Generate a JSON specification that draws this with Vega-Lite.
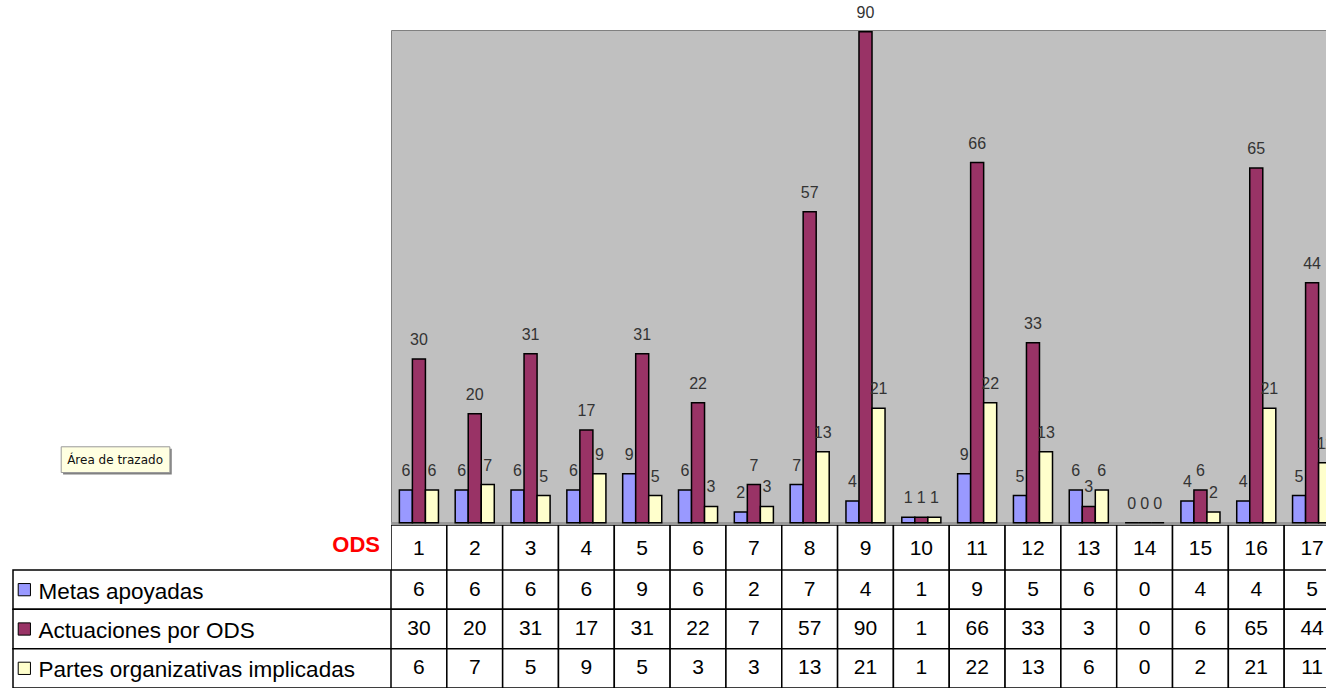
{
  "$schema": "https://vega.github.io/schema/vega-lite/v6.json",
  "padding": {"left": 12, "top": 4, "right": 0, "bottom": 0},
  "background": "white",
  "columns": 2,
  "spacing": 0,
  "bounds": "flush",
  "resolve": {"scale": {"x": "independent", "y": "independent", "color": "independent", "xOffset": "independent"}},
  "config": {"view": {"stroke": null}, "font": "Liberation Sans"},
  "datasets": {
    "datos": [
      {"ODS": 1, "serie": "Metas apoyadas", "valor": 6},
      {"ODS": 1, "serie": "Actuaciones por ODS", "valor": 30},
      {"ODS": 1, "serie": "Partes organizativas implicadas", "valor": 6},
      {"ODS": 2, "serie": "Metas apoyadas", "valor": 6},
      {"ODS": 2, "serie": "Actuaciones por ODS", "valor": 20},
      {"ODS": 2, "serie": "Partes organizativas implicadas", "valor": 7},
      {"ODS": 3, "serie": "Metas apoyadas", "valor": 6},
      {"ODS": 3, "serie": "Actuaciones por ODS", "valor": 31},
      {"ODS": 3, "serie": "Partes organizativas implicadas", "valor": 5},
      {"ODS": 4, "serie": "Metas apoyadas", "valor": 6},
      {"ODS": 4, "serie": "Actuaciones por ODS", "valor": 17},
      {"ODS": 4, "serie": "Partes organizativas implicadas", "valor": 9},
      {"ODS": 5, "serie": "Metas apoyadas", "valor": 9},
      {"ODS": 5, "serie": "Actuaciones por ODS", "valor": 31},
      {"ODS": 5, "serie": "Partes organizativas implicadas", "valor": 5},
      {"ODS": 6, "serie": "Metas apoyadas", "valor": 6},
      {"ODS": 6, "serie": "Actuaciones por ODS", "valor": 22},
      {"ODS": 6, "serie": "Partes organizativas implicadas", "valor": 3},
      {"ODS": 7, "serie": "Metas apoyadas", "valor": 2},
      {"ODS": 7, "serie": "Actuaciones por ODS", "valor": 7},
      {"ODS": 7, "serie": "Partes organizativas implicadas", "valor": 3},
      {"ODS": 8, "serie": "Metas apoyadas", "valor": 7},
      {"ODS": 8, "serie": "Actuaciones por ODS", "valor": 57},
      {"ODS": 8, "serie": "Partes organizativas implicadas", "valor": 13},
      {"ODS": 9, "serie": "Metas apoyadas", "valor": 4},
      {"ODS": 9, "serie": "Actuaciones por ODS", "valor": 90},
      {"ODS": 9, "serie": "Partes organizativas implicadas", "valor": 21},
      {"ODS": 10, "serie": "Metas apoyadas", "valor": 1},
      {"ODS": 10, "serie": "Actuaciones por ODS", "valor": 1},
      {"ODS": 10, "serie": "Partes organizativas implicadas", "valor": 1},
      {"ODS": 11, "serie": "Metas apoyadas", "valor": 9},
      {"ODS": 11, "serie": "Actuaciones por ODS", "valor": 66},
      {"ODS": 11, "serie": "Partes organizativas implicadas", "valor": 22},
      {"ODS": 12, "serie": "Metas apoyadas", "valor": 5},
      {"ODS": 12, "serie": "Actuaciones por ODS", "valor": 33},
      {"ODS": 12, "serie": "Partes organizativas implicadas", "valor": 13},
      {"ODS": 13, "serie": "Metas apoyadas", "valor": 6},
      {"ODS": 13, "serie": "Actuaciones por ODS", "valor": 3},
      {"ODS": 13, "serie": "Partes organizativas implicadas", "valor": 6},
      {"ODS": 14, "serie": "Metas apoyadas", "valor": 0},
      {"ODS": 14, "serie": "Actuaciones por ODS", "valor": 0},
      {"ODS": 14, "serie": "Partes organizativas implicadas", "valor": 0},
      {"ODS": 15, "serie": "Metas apoyadas", "valor": 4},
      {"ODS": 15, "serie": "Actuaciones por ODS", "valor": 6},
      {"ODS": 15, "serie": "Partes organizativas implicadas", "valor": 2},
      {"ODS": 16, "serie": "Metas apoyadas", "valor": 4},
      {"ODS": 16, "serie": "Actuaciones por ODS", "valor": 65},
      {"ODS": 16, "serie": "Partes organizativas implicadas", "valor": 21},
      {"ODS": 17, "serie": "Metas apoyadas", "valor": 5},
      {"ODS": 17, "serie": "Actuaciones por ODS", "valor": 44},
      {"ODS": 17, "serie": "Partes organizativas implicadas", "valor": 11}
    ]
  },
  "concat": [
    {
      "width": 378,
      "height": 495,
      "data": {"values": [{"etiqueta": "Área de trazado"}]},
      "layer": [
        {
          "mark": {"type": "rect", "fill": "#808080"},
          "encoding": {
            "x": {"datum": 53, "type": "quantitative", "scale": {"domain": [0, 378]}, "axis": null},
            "x2": {"datum": 168},
            "y": {"datum": 423, "type": "quantitative", "scale": {"domain": [0, 495], "reverse": true}, "axis": null},
            "y2": {"datum": 449}
          }
        },
        {
          "mark": {"type": "rect", "fill": "#FFFFE1", "stroke": "#9a9a9a", "strokeWidth": 1},
          "encoding": {
            "x": {"datum": 51, "type": "quantitative"},
            "x2": {"datum": 166},
            "y": {"datum": 421, "type": "quantitative"},
            "y2": {"datum": 447}
          }
        },
        {
          "mark": {"type": "text", "font": "DejaVu Sans", "fontSize": 12, "color": "#111111", "align": "center", "baseline": "middle"},
          "encoding": {
            "x": {"datum": 108, "type": "quantitative"},
            "y": {"datum": 434, "type": "quantitative"},
            "text": {"field": "etiqueta"}
          }
        }
      ]
    },
    {
      "width": 936,
      "height": 495,
      "view": {"fill": "#C0C0C0", "stroke": "#808080", "strokeWidth": 1},
      "data": {"name": "datos"},
      "encoding": {
        "x": {"field": "ODS", "type": "ordinal", "scale": {"domain": [1,2,3,4,5,6,7,8,9,10,11,12,13,14,15,16,17], "range": [0, 949], "paddingInner": 0.3, "paddingOuter": 0.15}, "axis": null},
        "xOffset": {"field": "serie", "type": "nominal", "scale": {"domain": ["Metas apoyadas", "Actuaciones por ODS", "Partes organizativas implicadas"], "paddingInner": 0, "paddingOuter": 0}},
        "y": {"field": "valor", "type": "quantitative", "scale": {"domain": [-0.4, 90.3], "nice": false}, "axis": null}
      },
      "layer": [
        {
          "mark": {"type": "rect", "fill": "#999999"},
          "encoding": {
            "x": null,
            "xOffset": null,
            "y": {"datum": -0.4, "type": "quantitative"},
            "y2": {"datum": 0}
          }
        },
        {
          "mark": {"type": "bar", "stroke": "black", "strokeWidth": 1.5, "clip": true},
          "encoding": {
            "y2": {"datum": 0},
            "color": {"field": "serie", "type": "nominal", "scale": {"domain": ["Metas apoyadas", "Actuaciones por ODS", "Partes organizativas implicadas"], "range": ["#9999FF", "#993366", "#FFFFCC"]}, "legend": null}
          }
        },
        {
          "transform": [{"filter": "datum.ODS < 17"}],
          "mark": {"type": "text", "fontSize": 16, "color": "#333333", "baseline": "middle", "dy": -19},
          "encoding": {"text": {"field": "valor", "type": "quantitative"}}
        },
        {
          "transform": [{"filter": "datum.ODS == 17"}],
          "mark": {"type": "text", "fontSize": 16, "color": "#333333", "baseline": "middle", "dy": -19, "clip": true},
          "encoding": {"text": {"field": "valor", "type": "quantitative"}}
        }
      ]
    },
    {
      "width": 378,
      "height": 45,
      "data": {"values": [{"t": "ODS"}]},
      "mark": {"type": "text", "fontSize": 22, "fontWeight": "bold", "color": "#FF0000", "align": "right", "baseline": "middle", "dy": -3},
      "encoding": {
        "x": {"datum": 367, "type": "quantitative", "scale": {"domain": [0, 378]}, "axis": null},
        "text": {"field": "t"}
      }
    },
    {
      "width": 936,
      "height": 45,
      "data": {"name": "datos"},
      "transform": [{"filter": "datum.serie == 'Metas apoyadas'"}],
      "encoding": {
        "x": {"field": "ODS", "type": "ordinal", "scale": {"type": "band", "domain": [1,2,3,4,5,6,7,8,9,10,11,12,13,14,15,16,17], "range": [0, 949], "paddingInner": 0, "paddingOuter": 0}, "axis": null}
      },
      "layer": [
        {
          "mark": {"type": "rect", "fill": "white", "stroke": "black", "strokeWidth": 1.5, "clip": true}
        },
        {
          "mark": {"type": "text", "fontSize": 21, "color": "black", "baseline": "middle", "clip": true, "dy": 1},
          "encoding": {"text": {"field": "ODS", "type": "ordinal"}}
        }
      ]
    },
    {
      "width": 378,
      "height": 118,
      "data": {"name": "datos"},
      "transform": [{"filter": "datum.ODS == 1"}],
      "encoding": {
        "y": {"field": "serie", "type": "nominal", "scale": {"type": "band", "domain": ["Metas apoyadas", "Actuaciones por ODS", "Partes organizativas implicadas"], "paddingInner": 0, "paddingOuter": 0}, "axis": null}
      },
      "layer": [
        {
          "mark": {"type": "rect", "fill": "white", "stroke": "black", "strokeWidth": 1.5}
        },
        {
          "mark": {"type": "point", "shape": "square", "size": 150, "filled": true, "stroke": "black", "strokeWidth": 1, "opacity": 1},
          "encoding": {
            "x": {"datum": 12, "type": "quantitative", "scale": {"domain": [0, 378]}, "axis": null},
            "color": {"field": "serie", "type": "nominal", "scale": {"domain": ["Metas apoyadas", "Actuaciones por ODS", "Partes organizativas implicadas"], "range": ["#9999FF", "#993366", "#FFFFCC"]}, "legend": null}
          }
        },
        {
          "mark": {"type": "text", "fontSize": 22.5, "color": "black", "align": "left", "baseline": "middle", "dy": 2},
          "encoding": {
            "x": {"datum": 27, "type": "quantitative"},
            "text": {"field": "serie"}
          }
        }
      ]
    },
    {
      "width": 936,
      "height": 118,
      "data": {"name": "datos"},
      "encoding": {
        "x": {"field": "ODS", "type": "ordinal", "scale": {"type": "band", "domain": [1,2,3,4,5,6,7,8,9,10,11,12,13,14,15,16,17], "range": [0, 949], "paddingInner": 0, "paddingOuter": 0}, "axis": null},
        "y": {"field": "serie", "type": "nominal", "scale": {"type": "band", "domain": ["Metas apoyadas", "Actuaciones por ODS", "Partes organizativas implicadas"], "paddingInner": 0, "paddingOuter": 0}, "axis": null}
      },
      "layer": [
        {
          "mark": {"type": "rect", "fill": "white", "stroke": "black", "strokeWidth": 1.5, "clip": true}
        },
        {
          "mark": {"type": "text", "fontSize": 21, "color": "black", "baseline": "middle", "clip": true},
          "encoding": {"text": {"field": "valor", "type": "quantitative"}}
        }
      ]
    }
  ]
}
